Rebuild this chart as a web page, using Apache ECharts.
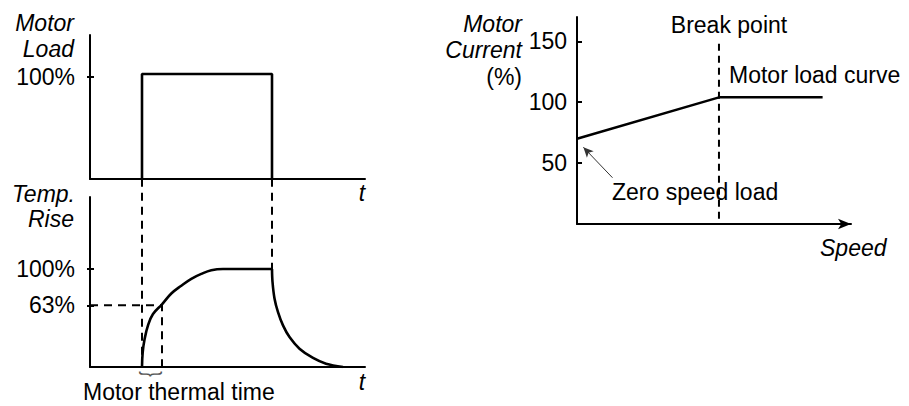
<!DOCTYPE html>
<html><head><meta charset="utf-8">
<script src="https://cdn.jsdelivr.net/npm/echarts@6/dist/echarts.min.js"></script>
<style>html,body{margin:0;padding:0;background:#fff}#c{width:909px;height:406px}</style>
</head><body><div id="c"></div>
<script>
// ---- data ----
const loadTime = [5.2, 5.2, 18.2, 18.2];
const loadPct = [0, 103, 103, 0];
const riseTime = [5.2, 5.27, 5.47, 5.8, 6.3, 7.2, 8.13, 9.13, 10.13, 11.13, 12.13, 13.3, 18.2];
const risePct = [0, 15, 29, 42.5, 54, 64, 75, 83, 90, 95, 98.7, 100, 100];
const fallTime = [18.2, 18.25, 18.45, 18.8, 19.3, 19.95, 20.95, 22.3, 23.6, 25.3];
const fallPct = [100, 87, 70, 56, 42.5, 30.6, 18.7, 9.2, 3.4, 0];
const onTime = 5.2, offTime = 18.2, thermalTime = 7.2, level63 = 63, topOfPanel = 192;
const loadTicks = [100];
const tempTicks = [63, 100];
const speed = [0, 10, 17.3];
const current = [70, 104, 104];
const currentTicks = [50, 100, 150];
const breakSpeed = 10, breakTop = 148;
const arrowFrom = [2.5, 38], arrowTo = [0.45, 63];

const FONT = 'Liberation Sans, Arial, sans-serif';
const FS = 23;
const pair = (xs, ys) => xs.map((x, i) => [x, ys[i]]);
const black = '#000';

const xBase = (gi, max) => ({
  type: 'value', gridIndex: gi, min: 0, max: max,
  axisLine: {show: true, onZero: false, lineStyle: {color: black, width: 2}},
  axisTick: {show: false}, axisLabel: {show: false}, splitLine: {show: false}
});
const yMain = (gi, max, ticks, fmt) => ({
  type: 'value', gridIndex: gi, min: 0, max: max, position: 'left',
  axisLine: {show: true, onZero: false, lineStyle: {color: black, width: 2}},
  axisTick: {show: true, inside: false, length: 3, customValues: ticks, lineStyle: {color: black, width: 2}},
  axisLabel: {show: true, customValues: ticks, formatter: fmt, margin: 15, color: black, fontSize: FS, fontFamily: FONT},
  splitLine: {show: false}
});
const yInner = (gi, max, ticks) => ({
  type: 'value', gridIndex: gi, min: 0, max: max, position: 'left', offset: 0,
  axisLine: {show: false, onZero: false},
  axisTick: {show: true, inside: true, length: 4, customValues: ticks, lineStyle: {color: black, width: 2}},
  axisLabel: {show: false}, splitLine: {show: false}
});
const dashed = {color: black, width: 2, type: [8, 6]};

const txt = (text, x, y, align, italic, extra) => Object.assign({
  type: 'text', x: x, y: y, silent: true,
  style: {text: text, fill: black, font: (italic ? 'italic ' : '') + FS + 'px ' + FONT, align: align, verticalAlign: 'middle'}
}, extra || {});

const option = {
  animation: false,
  backgroundColor: '#fff',
  grid: [
    {left: 90, top: 35, width: 275, height: 144},
    {left: 90, top: 197, width: 275, height: 170},
    {left: 577, top: 17, width: 274, height: 207}
  ],
  xAxis: [
    xBase(0, 27.5),
    xBase(1, 27.5),
    Object.assign(xBase(2, 19.3), {axisLine: {show: true, onZero: false, symbol: ['none', 'arrow'], symbolSize: [8, 13], lineStyle: {color: black, width: 2}}})
  ],
  yAxis: [
    yMain(0, 141.2, loadTicks, '{value}%'),
    yInner(0, 141.2, loadTicks),
    yMain(1, 173.5, tempTicks, '{value}%'),
    yInner(1, 173.5, tempTicks),
    Object.assign(yMain(2, 170, currentTicks, '{value}'), {
      axisTick: {show: true, inside: true, length: 5, customValues: currentTicks, lineStyle: {color: black, width: 2}},
      axisLabel: {show: true, customValues: currentTicks, margin: 10, color: black, fontSize: FS, fontFamily: FONT}
    })
  ],
  series: [
    {type: 'line', xAxisIndex: 0, yAxisIndex: 0, data: pair(loadTime, loadPct), symbol: 'none',
     lineStyle: {color: black, width: 2.6}},
    {type: 'line', xAxisIndex: 1, yAxisIndex: 2, data: pair(riseTime, risePct), symbol: 'none',
     smooth: 0.4, lineStyle: {color: black, width: 2.6}},
    {type: 'line', xAxisIndex: 1, yAxisIndex: 2, data: pair(fallTime, fallPct), symbol: 'none',
     smooth: 0.35, lineStyle: {color: black, width: 2.6}},
    {type: 'line', xAxisIndex: 1, yAxisIndex: 2, clip: false, symbol: 'none',
     data: [[onTime, topOfPanel], [onTime, 0]], lineStyle: dashed},
    {type: 'line', xAxisIndex: 1, yAxisIndex: 2, clip: false, symbol: 'none',
     data: [[offTime, topOfPanel], [offTime, 100]], lineStyle: dashed},
    {type: 'line', xAxisIndex: 1, yAxisIndex: 2, symbol: 'none',
     data: [[0, level63], [thermalTime, level63], [thermalTime, 0]], lineStyle: dashed},
    {type: 'line', xAxisIndex: 2, yAxisIndex: 4, data: pair(speed, current), symbol: 'none',
     lineStyle: {color: black, width: 2.5},
     markLine: {silent: true, symbol: ['none', 'arrow'], symbolSize: [7, 10],
       label: {show: false}, lineStyle: {color: '#333', width: 1, type: 'solid'},
       data: [[{coord: arrowFrom}, {coord: arrowTo}]]}},
    {type: 'line', xAxisIndex: 2, yAxisIndex: 4, symbol: 'none',
     data: [[breakSpeed, breakTop], [breakSpeed, 0]], lineStyle: {color: black, width: 2, type: [7, 5]}}
  ],
  graphic: [
    txt('Motor', 74, 23, 'right', true),
    txt('Load', 74, 49, 'right', true),
    txt('Temp.', 75, 194, 'right', true),
    txt('Rise', 74, 219, 'right', true),
    txt('t', 362, 193, 'center', true),
    txt('t', 362, 382, 'center', true),
    txt('Motor thermal time', 83, 392, 'left', false),
    txt('}', 152.5, 374, 'center', false, {rotation: -Math.PI / 2, scaleX: 0.7,
      style: {text: '}', fill: '#555', font: '24px ' + FONT, align: 'center', verticalAlign: 'middle'}}),
    txt('Motor', 522, 24, 'right', true),
    txt('Current', 522, 50, 'right', true),
    txt('(%)', 522, 77, 'right', false),
    txt('Break point', 729, 25, 'center', false),
    txt('Motor load curve', 729, 75, 'left', false),
    txt('Zero speed load', 612, 192, 'left', false),
    txt('Speed', 820, 248, 'left', true)
  ]
};
const chart = echarts.init(document.getElementById('c'), null, {renderer: 'svg'});
chart.setOption(option);
</script></body></html>
